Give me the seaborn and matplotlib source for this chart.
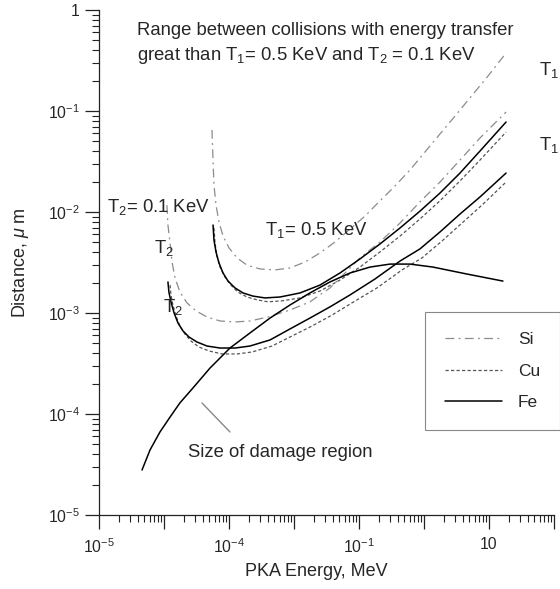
import numpy as np
import pandas as pd
import matplotlib
matplotlib.use("Agg")
import matplotlib.pyplot as plt
import seaborn as sns
from matplotlib.ticker import LogLocator, NullFormatter, FixedLocator, FixedFormatter
from matplotlib.lines import Line2D

# ---------------- data (PKA energy in MeV, distance in micrometres) ----------------
si_t1_E = [5.47e-4, 5.68e-4, 5.87e-4, 6.31e-4, 7.01e-4, 8.09e-4, 1.00e-3, 1.33e-3, 1.89e-3, 3.00e-3,
           5.10e-3, 8.67e-3, 1.48e-2, 2.51e-2, 4.28e-2, 7.28e-2, 0.124, 0.210, 0.358, 0.610,
           1.035, 1.76, 3.00, 5.10, 9.66, 18.3]
si_t1_D = [6.49e-2, 3.27e-2, 1.85e-2, 1.17e-2, 7.96e-3, 5.78e-3, 4.41e-3, 3.51e-3, 2.98e-3, 2.73e-3,
           2.67e-3, 2.79e-3, 3.20e-3, 3.93e-3, 5.05e-3, 6.79e-3, 9.12e-3, 1.29e-2, 1.81e-2, 2.61e-2,
           3.93e-2, 5.92e-2, 8.91e-2, 0.135, 0.222, 0.375]

si_t2_E = [1.11e-4, 1.15e-4, 1.24e-4, 1.33e-4, 1.48e-4, 1.76e-4, 2.26e-4, 3.10e-4, 4.59e-4, 7.28e-4,
           1.24e-3, 2.10e-3, 3.98e-3, 8.67e-3, 1.76e-2, 3.58e-2, 6.10e-2, 0.1035, 0.210, 0.428,
           0.867, 1.76, 3.58, 7.28, 18.3]
si_t2_D = [1.17e-2, 7.43e-3, 4.93e-3, 3.20e-3, 2.22e-3, 1.61e-3, 1.26e-3, 1.05e-3, 9.12e-4, 8.34e-4,
           8.15e-4, 8.34e-4, 9.12e-4, 1.07e-3, 1.29e-3, 1.77e-3, 2.49e-3, 3.51e-3, 5.05e-3, 7.78e-3,
           1.26e-2, 1.98e-2, 3.27e-2, 5.41e-2, 9.77e-2]

fe_t1_E = [5.68e-4, 5.87e-4, 6.31e-4, 7.01e-4, 8.09e-4, 9.66e-4, 1.24e-3, 1.64e-3, 2.34e-3, 3.58e-3,
           6.10e-3, 1.24e-2, 2.51e-2, 5.10e-2, 0.1035, 0.210, 0.428, 0.867, 1.76, 3.58, 7.28, 18.3]
fe_t1_D = [7.43e-3, 5.28e-3, 4.02e-3, 3.13e-3, 2.49e-3, 2.07e-3, 1.77e-3, 1.58e-3, 1.47e-3, 1.41e-3,
           1.44e-3, 1.58e-3, 1.89e-3, 2.49e-3, 3.43e-3, 4.82e-3, 6.95e-3, 1.02e-2, 1.54e-2, 2.43e-2,
           4.02e-2, 7.78e-2]

cu_t1_E = [5.87e-4, 6.10e-4, 6.53e-4, 7.28e-4, 8.67e-4, 1.07e-3, 1.37e-3, 1.89e-3, 2.70e-3, 3.98e-3,
           6.53e-3, 1.24e-2, 2.51e-2, 5.10e-2, 0.1035, 0.210, 0.428, 0.867, 1.76, 3.58, 7.28, 18.3]
cu_t1_D = [6.95e-3, 4.93e-3, 3.66e-3, 2.85e-3, 2.27e-3, 1.89e-3, 1.61e-3, 1.44e-3, 1.35e-3, 1.29e-3,
           1.32e-3, 1.41e-3, 1.65e-3, 2.12e-3, 2.85e-3, 4.02e-3, 5.78e-3, 8.53e-3, 1.29e-2, 2.03e-2,
           3.27e-2, 6.19e-2]

fe_t2_E = [1.15e-4, 1.19e-4, 1.28e-4, 1.43e-4, 1.64e-4, 1.96e-4, 2.43e-4, 3.22e-4, 4.59e-4, 7.28e-4,
           1.24e-3, 2.10e-3, 4.28e-3, 8.67e-3, 1.76e-2, 3.58e-2, 7.28e-2, 0.176, 0.428, 0.867,
           1.76, 3.58, 7.28, 18.3]
fe_t2_D = [2.03e-3, 1.61e-3, 1.29e-3, 1.00e-3, 7.96e-4, 6.64e-4, 5.78e-4, 5.16e-4, 4.71e-4, 4.50e-4,
           4.50e-4, 4.71e-4, 5.41e-4, 6.95e-4, 8.91e-4, 1.15e-3, 1.51e-3, 2.17e-3, 3.27e-3, 4.31e-3,
           6.34e-3, 9.55e-3, 1.41e-2, 2.43e-2]

cu_t2_E = [1.24e-4, 1.28e-4, 1.37e-4, 1.53e-4, 1.76e-4, 2.10e-4, 2.60e-4, 3.45e-4, 4.92e-4, 7.80e-4,
           1.33e-3, 2.26e-3, 4.59e-3, 9.31e-3, 1.89e-2, 3.85e-2, 7.80e-2, 0.189, 0.459, 0.931,
           1.89, 3.85, 7.80, 18.3]
cu_t2_D = [1.89e-3, 1.51e-3, 1.20e-3, 9.33e-4, 7.43e-4, 6.19e-4, 5.28e-4, 4.60e-4, 4.21e-4, 3.93e-4,
           3.93e-4, 4.11e-4, 4.71e-4, 5.92e-4, 7.43e-4, 9.55e-4, 1.26e-3, 1.77e-3, 2.67e-3, 3.51e-3,
           5.16e-3, 7.78e-3, 1.17e-2, 1.98e-2]

damage_E = [4.59e-5, 6.10e-5, 8.67e-5, 1.24e-4, 1.76e-4, 2.79e-4, 5.10e-4, 1.035e-3, 2.10e-3, 4.28e-3,
            8.67e-3, 1.76e-2, 3.58e-2, 7.28e-2, 0.148, 0.300, 0.610, 1.37, 4.59, 16.4]
damage_D = [2.79e-5, 4.41e-5, 6.64e-5, 9.33e-5, 1.29e-4, 1.81e-4, 2.85e-4, 4.50e-4, 6.34e-4, 8.91e-4,
            1.20e-3, 1.58e-3, 2.03e-3, 2.49e-3, 2.85e-3, 3.05e-3, 3.05e-3, 2.85e-3, 2.43e-3, 2.07e-3]

legend_labels = ["Si", "Cu", "Fe"]
x_tick_values = [1e-5, 1e-4, 1e-3, 1e-2, 1e-1, 1e0, 1e1, 1e2]
x_tick_labels = ["$10^{-5}$", "", "$10^{-4}$", "", "$10^{-1}$", "", "10", ""]
y_tick_values = [1e-5, 1e-4, 1e-3, 1e-2, 1e-1, 1e0]
y_tick_labels = ["$10^{-5}$", "$10^{-4}$", "$10^{-3}$", "$10^{-2}$", "$10^{-1}$", "1"]

# ---------------- style ----------------
sns.set_style("ticks")
plt.rcParams["font.family"] = ["Liberation Sans", "DejaVu Sans"]
plt.rcParams["mathtext.fontset"] = "custom"
plt.rcParams["mathtext.rm"] = "Liberation Sans"
plt.rcParams["mathtext.it"] = "Liberation Sans:italic"
plt.rcParams["mathtext.bf"] = "Liberation Sans:bold"

W, H = 560, 589
fig = plt.figure(figsize=(W / 100, H / 100), dpi=100)
ax = fig.add_axes([99 / W, 1 - 515 / H, 455 / W, 505 / H])
ax.set_xscale("log")
ax.set_yscale("log")

SI_C, CU_C, FE_C = "#8c8c8c", "#555555", "#000000"
si_ls = (0, (7, 3.5, 1.5, 3.5))
cu_ls = (0, (2.6, 1.8))

curves = [
    (si_t1_E, si_t1_D, SI_C, si_ls, 0.9, "Si"),
    (si_t2_E, si_t2_D, SI_C, si_ls, 0.9, None),
    (cu_t1_E, cu_t1_D, CU_C, cu_ls, 0.9, "Cu"),
    (cu_t2_E, cu_t2_D, CU_C, cu_ls, 0.9, None),
    (fe_t1_E, fe_t1_D, FE_C, "-", 1.1, "Fe"),
    (fe_t2_E, fe_t2_D, FE_C, "-", 1.1, None),
    (damage_E, damage_D, FE_C, "-", 1.1, None),
]
handles = {}
for E, D, c, ls, lw, lab in curves:
    df = pd.DataFrame({"E": E, "D": D})
    sns.lineplot(data=df, x="E", y="D", ax=ax, color=c, linestyle=ls, lw=lw,
                 sort=False, estimator=None, legend=False)
    if lab is not None:
        handles[lab] = Line2D([], [], color=c, linestyle=ls, lw=lw)

ax.set_xlim(1e-5, 1e2)
ax.set_ylim(1e-5, 1)

ax.xaxis.set_major_locator(FixedLocator(x_tick_values))
ax.xaxis.set_major_formatter(FixedFormatter(x_tick_labels))
ax.yaxis.set_major_locator(FixedLocator(y_tick_values))
ax.yaxis.set_major_formatter(FixedFormatter(y_tick_labels))
for axis in (ax.xaxis, ax.yaxis):
    axis.set_minor_locator(LogLocator(base=10, subs=np.arange(2, 10), numticks=50))
    axis.set_minor_formatter(NullFormatter())

sns.despine(ax=ax)
for s in ("left", "bottom"):
    ax.spines[s].set_linewidth(0.9)
    ax.spines[s].set_color("#222222")
ax.tick_params(which="major", direction="out", length=10, width=0.9, labelsize=11.3,
               color="#222222", pad=4)
ax.tick_params(which="minor", direction="out", length=5, width=0.8, color="#222222")
ax.tick_params(axis="x", which="major", pad=6)

ax.set_xlabel("PKA Energy, MeV", fontsize=13)
ax.set_ylabel("Distance, $\\mu$ m", fontsize=13)
ax.xaxis.set_label_coords((316 - 99) / 455, -0.095)
ax.yaxis.set_label_coords(-0.15, 0.5)

# legend
leg = ax.legend([handles[k] for k in legend_labels], legend_labels,
                loc="upper left", bbox_to_anchor=(425 / W, 1 - 312 / H),
                bbox_transform=fig.transFigure, borderaxespad=0,
                fontsize=12.5, frameon=True, fancybox=False, framealpha=1,
                edgecolor="#888888", borderpad=1.15, handlelength=3.3,
                handletextpad=0.9, labelspacing=0.95)
leg.get_frame().set_linewidth(0.8)


def ftext(x, y, s, **kw):
    fig.text(x / W, 1 - y / H, s, ha="left", va="baseline", fontsize=13.3, **kw)


ftext(137, 35, "Range between collisions with energy transfer")
ftext(137, 60, "great than T$_1$= 0.5 KeV and T$_2$ = 0.1 KeV")
ftext(107, 212, "T$_2$= 0.1 KeV")
ftext(154, 253, "T$_2$")
ftext(163, 312, "T$_2$")
ftext(265, 235, "T$_1$= 0.5 KeV")
ftext(539, 75, "T$_1$")
ftext(539, 150, "T$_1$")
ftext(188, 457, "Size of damage region")

# pointer line for the damage-region label
fig.add_artist(Line2D([202 / W, 230 / W], [1 - 403 / H, 1 - 432 / H],
                      transform=fig.transFigure, color="#888888", lw=1.0))

fig.savefig("out.png", dpi=100)
